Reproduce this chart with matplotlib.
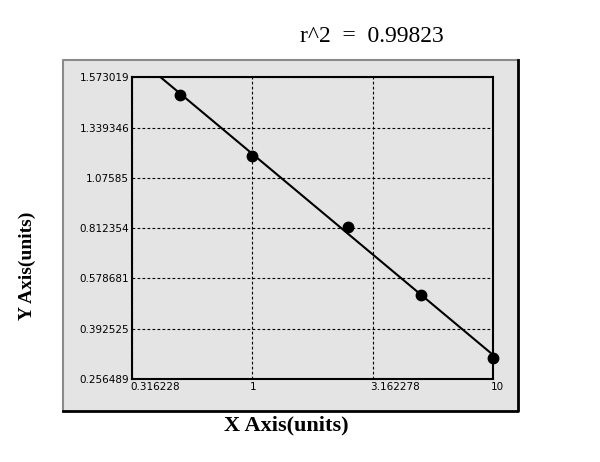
import numpy as np
import matplotlib
matplotlib.use('Agg')
import matplotlib.pyplot as plt
from matplotlib.lines import Line2D
from matplotlib.patches import Rectangle
from matplotlib.transforms import ScaledTranslation

# standard curve data
conc = [0.5, 1, 2.5, 5, 10]
od = [1.492, 1.191, 0.821, 0.517, 0.314]

x_ticks = [0.316228, 1, 3.162278, 10]
x_labels = ['0.316228', '1', '3.162278', '10']
y_ticks = [0.256489, 0.392525, 0.578681, 0.812354, 1.07585, 1.339346, 1.573019]
y_labels = ['0.256489', '0.392525', '0.578681', '0.812354', '1.07585', '1.339346', '1.573019']
r2_text = 'r^2  =  0.99823'

# y axis ticks are evenly spaced -> piecewise linear scale
yt = np.array(y_ticks)
yp = np.arange(len(yt), dtype=float)


def fwd(v):
    v = np.asarray(v, dtype=float)
    out = np.interp(v, yt, yp)
    lo = v < yt[0]
    hi = v > yt[-1]
    out = np.where(lo, (v - yt[0]) / (yt[1] - yt[0]), out)
    out = np.where(hi, yp[-1] + (v - yt[-1]) / (yt[-1] - yt[-2]), out)
    return out


def inv(p):
    p = np.asarray(p, dtype=float)
    out = np.interp(p, yp, yt)
    lo = p < 0
    hi = p > yp[-1]
    out = np.where(lo, yt[0] + p * (yt[1] - yt[0]), out)
    out = np.where(hi, yt[-1] + (p - yp[-1]) * (yt[-1] - yt[-2]), out)
    return out


fig = plt.figure(figsize=(6, 4.62), dpi=100)

# grey panel with 3d-ish border
fig.patches.append(Rectangle((0.105, 0.111), 0.758, 0.760, transform=fig.transFigure,
                             facecolor='#e4e4e4', edgecolor='none', zorder=-10))
fig.lines.append(Line2D([0.105, 0.105, 0.863], [0.111, 0.871, 0.871], transform=fig.transFigure,
                        color='#8a8a8a', lw=1.5, zorder=-5))
fig.lines.append(Line2D([0.105, 0.863, 0.863], [0.111, 0.111, 0.871], transform=fig.transFigure,
                        color='black', lw=2, zorder=-5))

ax = fig.add_axes([0.22, 0.1797, 0.6017, 0.6526])
ax.set_facecolor('#e4e4e4')
ax.set_xscale('log')
ax.set_yscale('function', functions=(fwd, inv))
ax.set_xlim(x_ticks[0], x_ticks[-1])
ax.set_ylim(y_ticks[0], y_ticks[-1])

# fit: straight line in log(x) / scaled-y space
lx = np.log10(conc)
a, b = np.polyfit(lx, fwd(od), 1)
xs = np.logspace(np.log10(x_ticks[0]), np.log10(x_ticks[-1]), 200)
ax.plot(xs, inv(a * np.log10(xs) + b), color='black', lw=1.5, zorder=3)
ax.plot(conc, od, 'o', color='black', ms=7.5, zorder=4, clip_on=False)

ax.set_xticks(x_ticks)
ax.set_xticklabels(x_labels, ha='left')
ax.xaxis.set_minor_locator(matplotlib.ticker.NullLocator())
ax.set_yticks(y_ticks)
ax.set_yticklabels(y_labels)
ax.tick_params(length=0, labelsize=7.5, pad=2)
shift = ScaledTranslation(-1.5 / 72, 0, fig.dpi_scale_trans)
for lab in ax.get_xticklabels():
    lab.set_transform(lab.get_transform() + shift)
ax.grid(True, color='black', linestyle=(0, (2.5, 2)), lw=0.8)
for s in ax.spines.values():
    s.set_linewidth(1.5)

ax.set_xlabel('X Axis(units)', fontfamily='Liberation Serif', fontweight='bold', fontsize=16)
ax.xaxis.set_label_coords(0.427, -0.12)
ax.set_ylabel('Y Axis(units)', fontfamily='Liberation Serif', fontweight='bold', fontsize=14)
ax.yaxis.set_label_coords(-0.265, 0.375)
fig.text(0.62, 0.92, r2_text, fontfamily='Liberation Serif', fontsize=17, ha='center', va='center')

fig.savefig('out.png', dpi=100)
